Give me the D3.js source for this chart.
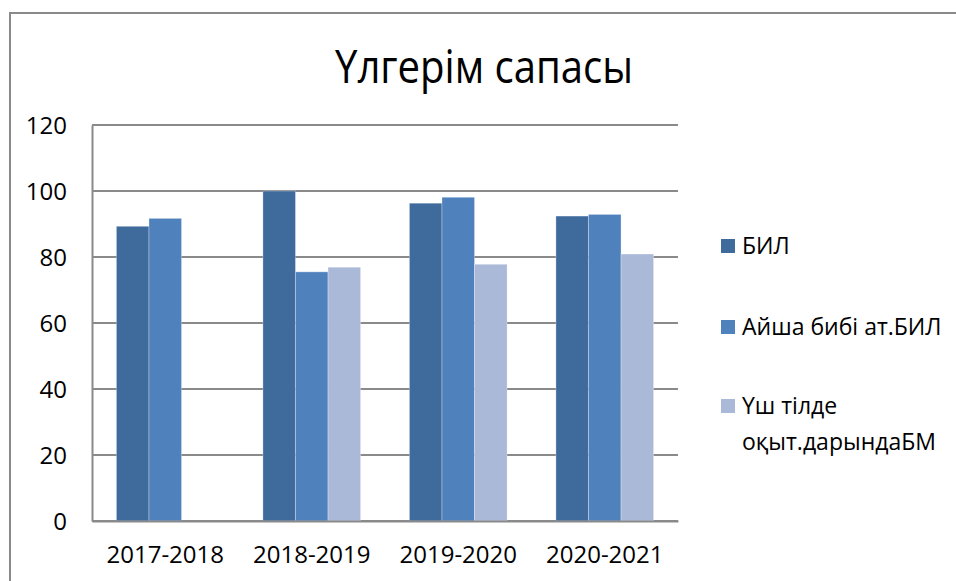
<!DOCTYPE html>
<html>
<head>
<meta charset="utf-8">
<title>Үлгерім сапасы</title>
<style>
  body { margin: 0; background: #fff; }
  text { font-family: "Open Sans", "Noto Sans", sans-serif; fill: #000; }
</style>
</head>
<body>
<script src="https://d3js.org/d3.v7.min.js"></script>
<script>
var categories = ["2017-2018", "2018-2019", "2019-2020", "2020-2021"];
var seriesNames = ["БИЛ", "Айша бибі ат.БИЛ", "Үш тілде оқыт.дарындаБМ"];
var bil = [89.3, 100, 96.3, 92.4];
var aisha = [91.7, 75.5, 98.1, 92.9];
var ush = [null, 76.9, 77.8, 80.9];
var yTicks = [0, 20, 40, 60, 80, 100, 120];
var colors = ["#3f6a9c", "#4f81bd", "#aab9d7"];

var width = 956, height = 581;
var plot = {left: 92, right: 678, top: 125, bottom: 521};

var svg = d3.select("body").append("svg")
    .attr("width", width)
    .attr("height", height);

// chart border
svg.append("rect")
    .attr("x", 10).attr("y", 13)
    .attr("width", 960).attr("height", 600)
    .attr("fill", "none")
    .attr("stroke", "#8a8a8a")
    .attr("stroke-width", 2);

svg.append("text")
    .attr("x", 484).attr("y", 83)
    .attr("text-anchor", "middle")
    .attr("font-size", 45)
    .attr("textLength", 298)
    .attr("lengthAdjust", "spacingAndGlyphs")
    .text("Үлгерім сапасы");

var y = d3.scaleLinear().domain([0, 120]).range([plot.bottom, plot.top]);

var x0 = d3.scaleBand()
    .domain(categories)
    .range([plot.left, plot.right])
    .paddingInner(1 / 3)
    .paddingOuter(1 / 6);

var x1 = d3.scaleBand()
    .domain(d3.range(seriesNames.length))
    .range([0, x0.bandwidth()]);

// gridlines
svg.append("g")
    .selectAll("line")
    .data(yTicks)
    .enter().append("line")
    .attr("x1", plot.left).attr("x2", plot.right)
    .attr("y1", function(d) { return y(d); })
    .attr("y2", function(d) { return y(d); })
    .attr("stroke", "#8a8a8a")
    .attr("stroke-width", 2);

// y axis
var yAxis = d3.axisLeft(y).tickValues(yTicks).tickSize(0).tickPadding(25);
var gy = svg.append("g")
    .attr("transform", "translate(" + plot.left + ",0)")
    .call(yAxis);
gy.select(".domain").attr("stroke", "#8a8a8a").attr("stroke-width", 2);
gy.selectAll("text")
    .attr("font-size", 24)
    .attr("font-family", "'Open Sans', sans-serif")
    .attr("dy", "0.35em");

// bars
var seriesData = [bil, aisha, ush];
var rows = [];
seriesData.forEach(function(vals, s) {
    vals.forEach(function(v, i) {
        if (v != null) rows.push({s: s, cat: categories[i], v: v});
    });
});

svg.append("g")
    .selectAll("rect")
    .data(rows)
    .enter().append("rect")
    .attr("x", function(d) { return x0(d.cat) + x1(d.s); })
    .attr("y", function(d) { return y(d.v); })
    .attr("width", x1.bandwidth())
    .attr("height", function(d) { return y(0) - y(d.v); })
    .attr("fill", function(d) { return colors[d.s]; })
    .attr("stroke", "rgba(255,255,255,0.3)")
    .attr("stroke-width", 1);

// x axis
var xAxis = d3.axisBottom(x0).tickSize(0).tickPadding(25);
var gx = svg.append("g")
    .attr("transform", "translate(0," + plot.bottom + ")")
    .call(xAxis);
gx.select(".domain").attr("stroke", "#8a8a8a").attr("stroke-width", 2);
gx.selectAll("text")
    .attr("font-size", 24)
    .attr("font-family", "'Open Sans', sans-serif");

// legend
var legendLines = [["БИЛ"], ["Айша бибі ат.БИЛ"], ["Үш тілде", "оқыт.дарындаБМ"]];
var legendY = [246, 327, 406];
var lg = svg.append("g");
legendLines.forEach(function(lines, i) {
    lg.append("rect")
        .attr("x", 721).attr("y", legendY[i] - 7)
        .attr("width", 14).attr("height", 14)
        .attr("fill", colors[i]);
    lines.forEach(function(t, j) {
        lg.append("text")
            .attr("x", 742)
            .attr("y", legendY[i] + 8 + j * 36)
            .attr("font-size", 23)
            .text(t);
    });
});
</script>
</body>
</html>
